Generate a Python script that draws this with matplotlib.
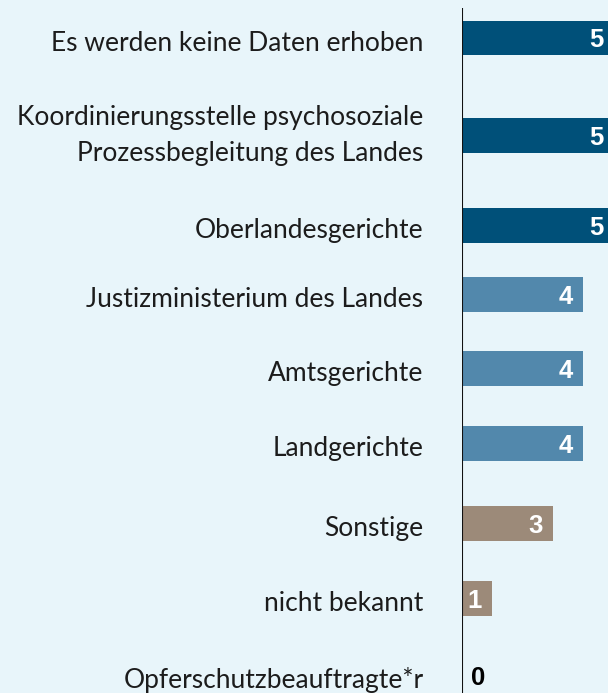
import numpy as np
import matplotlib
matplotlib.use("Agg")
import matplotlib.pyplot as plt

kategorien = ["Es werden keine Daten erhoben",
              "Koordinierungsstelle psychosoziale\nProzessbegleitung des Landes",
              "Oberlandesgerichte",
              "Justizministerium des Landes",
              "Amtsgerichte",
              "Landgerichte",
              "Sonstige",
              "nicht bekannt",
              "Opferschutzbeauftragte*r"]
werte = [5, 5, 5, 4, 4, 4, 3, 1, 0]
farben = ["#005079", "#005079", "#005079",
          "#5288ac", "#5288ac", "#5288ac",
          "#9c8a79", "#9c8a79", "#9c8a79"]

# layout: row centres in pixels from the top
zeilen_y = [38, 135.5, 225.5, 294.5, 368.5, 443.5, 523.5, 598.5, 675]

W, H = 608, 693
bg = "#e8f5fa"
fig = plt.figure(figsize=(W / 100, H / 100), dpi=100, facecolor=bg)
x0 = 461.5
px_per_unit = 30.4
ax = fig.add_axes([x0 / W, 0, 1 - x0 / W, 1])
ax.set_facecolor(bg)
ax.set_xlim(0, (W - x0) / px_per_unit)
ax.set_ylim(H, 0)
ax.axis("off")

label_font = ["Lato", "DejaVu Sans"]
zahl_font = ["Liberation Sans", "DejaVu Sans"]

ax.barh(zeilen_y, werte, height=34.5, color=farben, zorder=2)
ax.vlines(0, 8, H, color="#111111", linewidth=1.5, zorder=3)

for y, k, v in zip(zeilen_y, kategorien, werte):
    zeilen = k.split("\n")
    n = len(zeilen)
    basis = 12.7 - 5.2 * (n - 1)
    for i, z in enumerate(zeilen):
        dy = basis + (i - (n - 1) / 2) * 36
        ax.annotate(z, (0, y), xytext=(-38, -dy), textcoords="offset pixels",
                    ha="right", va="baseline", fontsize=19, color="#1c1c1c",
                    family=label_font, annotation_clip=False)
    if v > 0:
        ax.annotate(str(v), (v, y), xytext=(-10, -9.3), textcoords="offset pixels",
                    ha="right", va="baseline", fontsize=18.5, fontweight="bold",
                    family=zahl_font, color="white", zorder=4,
                    annotation_clip=False)
    else:
        ax.annotate(str(v), (0, y), xytext=(9, -10), textcoords="offset pixels",
                    ha="left", va="baseline", fontsize=18.5, fontweight="bold",
                    family=zahl_font, color="black", zorder=4,
                    annotation_clip=False)

fig.savefig("out.png", dpi=100, facecolor=bg)
